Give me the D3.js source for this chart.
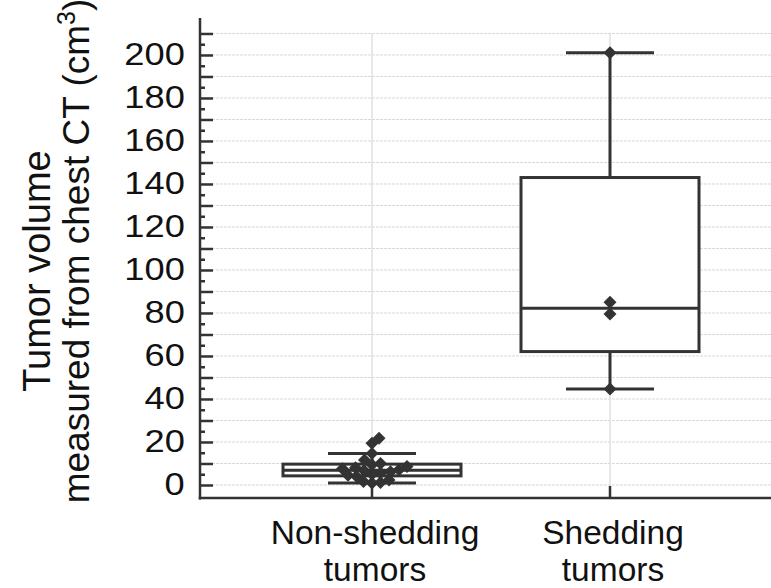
<!DOCTYPE html>
<html>
<head>
<meta charset="utf-8">
<script src="https://cdn.jsdelivr.net/npm/d3@7"></script>
<style>
  html, body { margin: 0; padding: 0; background: #fff; }
  svg { display: block; }
  text { font-family: "Liberation Sans", Arial, Helvetica, sans-serif; fill: #111; }
</style>
</head>
<body>
<svg id="chart" width="771" height="588"></svg>
<script>
// ---------------- data ----------------
const categories = ["Non-shedding tumors", "Shedding tumors"];
const categoryLines = [["Non-shedding", "tumors"], ["Shedding", "tumors"]];
const nonShedding = [0.9, 1.2, 1.6, 2.3, 4.0, 4.5, 5.0, 5.6, 6.2, 6.7,
                     7.1, 7.6, 8.0, 8.6, 9.4, 10.0, 11.6, 14.7, 19.4, 21.7];
const shedding = [201, 85, 79.5, 44.6];
const seriesValues = [nonShedding, shedding];
const yTickLabels = [0, 20, 40, 60, 80, 100, 120, 140, 160, 180, 200];
const yMajorTicks = d3.range(0, 211, 10);
const yMinorTicks = d3.range(5, 210, 10);
const yTitleLines = ["Tumor volume", "measured from chest CT (cm", "3", ")"];

// ---------------- layout ----------------
const W = 771, H = 588;
const axisX = 200, axisTop = 18, axisBottom = 498;
const svg = d3.select("#chart");
const ink = "#333";

const y = d3.scaleLinear().domain([-6.05, 217.2]).range([axisBottom, axisTop]);
const x = d3.scalePoint().domain(categories).range([372, 610]);
const boxW = 178, capW = 88;

// gridlines horizontal
svg.append("g").selectAll("line").data(yMajorTicks).join("line")
  .attr("x1", axisX).attr("x2", W)
  .attr("y1", d => y(d)).attr("y2", d => y(d))
  .attr("stroke", "#d9d9d9").attr("stroke-width", 1)
  .attr("stroke-dasharray", "3,1");
// gridlines vertical
svg.append("g").selectAll("line").data(categories).join("line")
  .attr("x1", d => x(d)).attr("x2", d => x(d))
  .attr("y1", y(210)).attr("y2", axisBottom)
  .attr("stroke", "#e0e0e0").attr("stroke-width", 1.5);

// ---------------- stats (Tukey hinges) ----------------
function stats(vals) {
  const s = vals.slice().sort((a, b) => a - b);
  const n = s.length;
  const med = d3.median(s);
  const half = Math.ceil(n / 2);
  const lower = s.slice(0, n % 2 ? half : n / 2);
  const upper = s.slice(n % 2 ? half - 1 : n / 2);
  const q1 = d3.median(lower), q3 = d3.median(upper);
  const iqr = q3 - q1;
  const lo = d3.min(s.filter(v => v >= q1 - 1.5 * iqr));
  const hi = d3.max(s.filter(v => v <= q3 + 1.5 * iqr));
  return { q1, med, q3, lo, hi };
}

// ---------------- boxes ----------------
const g = svg.append("g");
categories.forEach((c, i) => {
  const st = stats(seriesValues[i]);
  const cx = x(c);
  g.append("line").attr("x1", cx).attr("x2", cx).attr("y1", y(st.q3)).attr("y2", y(st.hi))
    .attr("stroke", ink).attr("stroke-width", 3);
  g.append("line").attr("x1", cx).attr("x2", cx).attr("y1", y(st.q1)).attr("y2", y(st.lo))
    .attr("stroke", ink).attr("stroke-width", 3);
  [st.hi, st.lo].forEach(v => {
    g.append("line").attr("x1", cx - capW / 2).attr("x2", cx + capW / 2)
      .attr("y1", y(v)).attr("y2", y(v)).attr("stroke", ink).attr("stroke-width", 3);
  });
  g.append("rect").attr("x", cx - boxW / 2).attr("width", boxW)
    .attr("y", y(st.q3)).attr("height", y(st.q1) - y(st.q3))
    .attr("fill", "#fff").attr("stroke", ink).attr("stroke-width", 3);
  g.append("line").attr("x1", cx - boxW / 2).attr("x2", cx + boxW / 2)
    .attr("y1", y(st.med)).attr("y2", y(st.med)).attr("stroke", ink).attr("stroke-width", 3);
});

// ---------------- swarm points ----------------
const dCol = 8.5;
function swarm(vals) {
  const s = vals.slice().sort((a, b) => a - b);
  const placed = [];
  s.forEach(v => {
    const py = y(v);
    let chosen = 0;
    for (let k = 0; k < 400; k++) {
      const off = (k % 2 ? 1 : -1) * Math.ceil(k / 2) * 0.5;
      const ok = placed.every(p => Math.hypot(p.dx - off, p.py - py) >= dCol);
      if (ok) { chosen = off; break; }
    }
    placed.push({ v, py, dx: chosen });
  });
  return placed;
}
const diamond = d3.symbol().type(d3.symbolSquare).size(84);
categories.forEach((c, i) => {
  const pts = swarm(seriesValues[i]);
  svg.append("g").selectAll("path").data(pts).join("path")
    .attr("d", diamond)
    .attr("transform", d => `translate(${x(c) + d.dx},${d.py}) rotate(45)`)
    .attr("fill", ink);
});

// ---------------- axes ----------------
const yAxisMajor = d3.axisLeft(y).tickValues(yMajorTicks).tickSize(-13).tickPadding(12)
  .tickFormat(d => yTickLabels.includes(d) ? String(d) : "");
const ya = svg.append("g").attr("transform", `translate(${axisX},0)`).call(yAxisMajor);
ya.select(".domain").remove();
ya.selectAll(".tick line").attr("stroke", ink).attr("stroke-width", 2.5);
ya.selectAll(".tick text").attr("font-size", 31).attr("fill", "#111")
  .attr("transform", "scale(1.17,1)").attr("x", -13)
  .style("font-family", "'Liberation Sans', Arial, sans-serif");
const yAxisMinor = d3.axisLeft(y).tickValues(yMinorTicks).tickSize(-5).tickFormat("");
const ym = svg.append("g").attr("transform", `translate(${axisX},0)`).call(yAxisMinor);
ym.select(".domain").remove();
ym.selectAll(".tick line").attr("stroke", ink).attr("stroke-width", 2.5);

// x ticks (inward)
svg.append("g").selectAll("line").data(categories).join("line")
  .attr("x1", d => x(d)).attr("x2", d => x(d))
  .attr("y1", axisBottom).attr("y2", axisBottom - 12)
  .attr("stroke", ink).attr("stroke-width", 2.5);

// axis lines
svg.append("line").attr("x1", axisX).attr("x2", axisX).attr("y1", axisTop).attr("y2", axisBottom + 1.5)
  .attr("stroke", ink).attr("stroke-width", 2.5);
svg.append("line").attr("x1", axisX - 1.25).attr("x2", W).attr("y1", axisBottom).attr("y2", axisBottom)
  .attr("stroke", ink).attr("stroke-width", 2.5);

// x labels
categories.forEach((c, i) => {
  const t = svg.append("text").attr("text-anchor", "middle").attr("font-size", 33.5);
  categoryLines[i].forEach((line, j) => {
    t.append("tspan").attr("x", x(c) + 3).attr("y", 544 + j * 37).text(line);
  });
});

// y title
svg.append("text").attr("text-anchor", "middle").attr("font-size", 38)
  .attr("transform", "translate(50,271) rotate(-90)").text(yTitleLines[0]);
const t2 = svg.append("text").attr("text-anchor", "middle").attr("font-size", 37)
  .attr("transform", "translate(89,251) rotate(-90)");
t2.append("tspan").text(yTitleLines[1]);
t2.append("tspan").attr("font-size", 25).attr("dy", -14).text(yTitleLines[2]);
t2.append("tspan").attr("dy", 14).text(yTitleLines[3]);
</script>
</body>
</html>
